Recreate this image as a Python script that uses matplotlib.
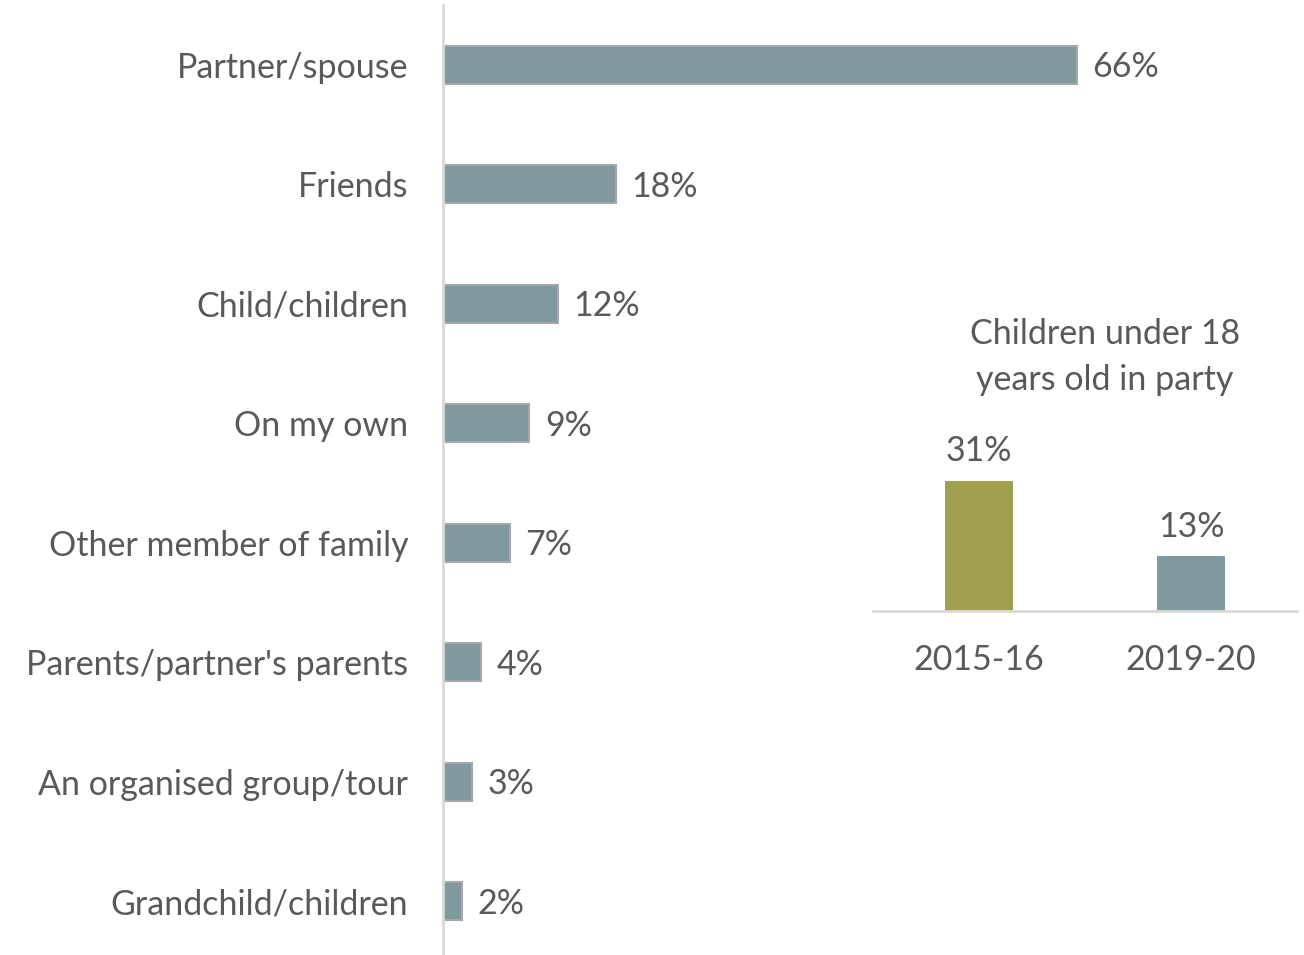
import matplotlib.pyplot as plt

# Who visitors travelled with (% of parties)
companions = [
    "Partner/spouse",
    "Friends",
    "Child/children",
    "On my own",
    "Other member of family",
    "Parents/partner's parents",
    "An organised group/tour",
    "Grandchild/children",
]
shares = [66, 18, 12, 9, 7, 4, 3, 2]

# Inset: parties with children under 18
years = ["2015-16", "2019-20"]
child_shares = [31, 13]

TEXT = "#595959"
BAR = "#7F999C"
EDGE = "#A5A7AD"
OLIVE = "#A0A050"
AXIS = "#D9D9D9"
FS = 24.5

plt.rcParams["font.family"] = ["Lato", "DejaVu Sans"]

W, H = 1304, 955
fig = plt.figure(figsize=(W / 100, H / 100), dpi=100)

# main horizontal bar chart
ax = fig.add_axes([443 / W, 0, 737 / W, 950 / H])
ypos = list(range(len(companions)))
ax.barh(ypos, shares, height=0.32, color=BAR, edgecolor=EDGE, linewidth=1.5)
ax.set_xlim(0, 737 / 9.6)
ax.set_ylim(7.45, -0.50)
ax.set_yticks(ypos)
ax.set_yticklabels(companions, fontsize=FS, color=TEXT)
ax.tick_params(axis="y", length=0, pad=25)
ax.set_xticks([])
for s in ["top", "right", "bottom"]:
    ax.spines[s].set_visible(False)
ax.spines["left"].set_color(AXIS)
ax.spines["left"].set_linewidth(2)
for y, v in zip(ypos, shares):
    ax.text(v + 1.6, y + 0.02, f"{v}%", va="center", ha="left",
            fontsize=FS, color=TEXT)

# inset column chart
ax2 = fig.add_axes([873 / W, (H - 611) / H, 424 / W, 147 / H])
ax2.bar([0, 1], child_shares, width=0.32, color=[OLIVE, BAR])
ax2.set_xlim(-0.5, 1.5)
ax2.set_ylim(0, 35)
ax2.set_xticks([0, 1])
ax2.set_xticklabels(years, fontsize=FS, color=TEXT)
ax2.tick_params(axis="x", length=0, pad=24)
ax2.set_yticks([])
for s in ["top", "right", "left"]:
    ax2.spines[s].set_visible(False)
ax2.spines["bottom"].set_color(AXIS)
ax2.spines["bottom"].set_linewidth(2)
for x, v in zip([0, 1], child_shares):
    ax2.text(x, v + 3.2, f"{v}%", ha="center", va="bottom",
             fontsize=FS, color=TEXT)

fig.text(1105 / W, 1 - 357 / H, "Children under 18\nyears old in party",
         ha="center", va="center", fontsize=FS, color=TEXT, linespacing=1.5)

fig.savefig("out.png", dpi=100)
